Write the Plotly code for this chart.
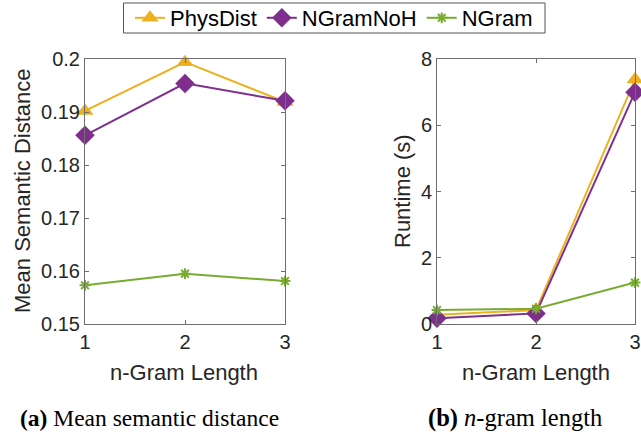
import plotly.graph_objects as go

# n-gram lengths on the x axis
ngram_len = [1, 2, 3]

# Mean semantic distance per method
phys_sem = [0.1902, 0.1994, 0.1919]
noh_sem = [0.1856, 0.1954, 0.1921]
ngram_sem = [0.1573, 0.1595, 0.1581]

# Runtime in seconds per method
phys_rt = [0.28, 0.42, 7.38]
noh_rt = [0.17, 0.32, 7.00]
ngram_rt = [0.42, 0.46, 1.25]

names = ["PhysDist", "NGramNoH", "NGram"]
colors = ["#EDB120", "#7E2F8E", "#77AC30"]
symbols = ["triangle-up", "diamond", "asterisk-open"]
msizes = [15, 15, 9]

W, H = 641, 436
SANS = "Liberation Sans, Arial, sans-serif"
SERIF = "Liberation Serif, Times New Roman, serif"
AX_COLOR = "#6e6e6e"
TXT = "#262626"

fig = go.Figure()

sem_series = [phys_sem, noh_sem, ngram_sem]
rt_series = [phys_rt, noh_rt, ngram_rt]
for i in range(3):
    common = dict(
        mode="lines+markers",
        line=dict(color=colors[i], width=2),
        marker=dict(symbol=symbols[i], size=msizes[i], color=colors[i],
                    line=dict(color=colors[i], width=2 if i == 2 else 0)),
        cliponaxis=False,
        name=names[i],
    )
    fig.add_trace(go.Scatter(x=ngram_len, y=sem_series[i], xaxis="x", yaxis="y",
                             showlegend=True, **common))
    fig.add_trace(go.Scatter(x=ngram_len, y=rt_series[i], xaxis="x2", yaxis="y2",
                             showlegend=False, **common))

def px_x(p):
    return p / W

def px_y(p):
    return 1 - p / H

axis_common = dict(
    showline=True, linecolor=AX_COLOR, linewidth=1, mirror="allticks",
    ticks="inside", ticklen=4, tickcolor=AX_COLOR, tickwidth=1,
    showgrid=False, zeroline=False, automargin=False,
    tickfont=dict(family=SANS, size=20, color=TXT),
)

fig.update_layout(
    width=W, height=H,
    margin=dict(l=0, r=0, t=0, b=0, pad=0, autoexpand=False),
    paper_bgcolor="white", plot_bgcolor="white",
    xaxis=dict(domain=[px_x(85), px_x(285)], range=[1, 3], tickvals=[1, 2, 3],
               anchor="y", **axis_common),
    yaxis=dict(domain=[px_y(324), px_y(59)], range=[0.15, 0.2],
               tickvals=[0.15, 0.16, 0.17, 0.18, 0.19, 0.2],
               ticktext=["0.15", "0.16", "0.17", "0.18", "0.19", "0.2"],
               anchor="x", **axis_common),
    xaxis2=dict(domain=[px_x(437), px_x(635)], range=[1, 3], tickvals=[1, 2, 3],
                anchor="y2", **axis_common),
    yaxis2=dict(domain=[px_y(324), px_y(59)], range=[0, 8],
                tickvals=[0, 2, 4, 6, 8], anchor="x2", **axis_common),
    legend=dict(
        orientation="h", x=px_x(334), xanchor="center", y=px_y(18), yanchor="middle",
        borderwidth=0, bgcolor="rgba(0,0,0,0)",
        font=dict(family=SANS, size=22, color="black"),
        itemwidth=30, tracegroupgap=0,
    ),
    showlegend=True,
    # frame around the legend entries
    shapes=[dict(type="rect", xref="paper", yref="paper",
                 x0=px_x(123.5), x1=px_x(545), y0=px_y(33), y1=px_y(3),
                 line=dict(color="#555555", width=1), layer="below")],
)

def label(text, x, y, font, angle=0):
    return dict(text=text, x=px_x(x), y=px_y(y), xref="paper", yref="paper",
                xanchor="center", yanchor="middle", showarrow=False,
                textangle=angle, font=font)

sans22 = dict(family=SANS, size=22, color=TXT)
annotations = [
    label("n-Gram Length", 184, 372, sans22),
    label("n-Gram Length", 536, 372, sans22),
    label("Mean Semantic Distance", 22, 191, sans22, -90),
    label("Runtime (s)", 402, 191, sans22, -90),
    label("<b>(a)</b> Mean semantic distance", 149, 418,
          dict(family=SERIF, size=23.5, color="black")),
    label("<b>(b)</b> <i>n</i>-gram length", 515, 418,
          dict(family=SERIF, size=24.5, color="black")),
]
fig.update_layout(annotations=annotations)

fig.write_html("out.html")
